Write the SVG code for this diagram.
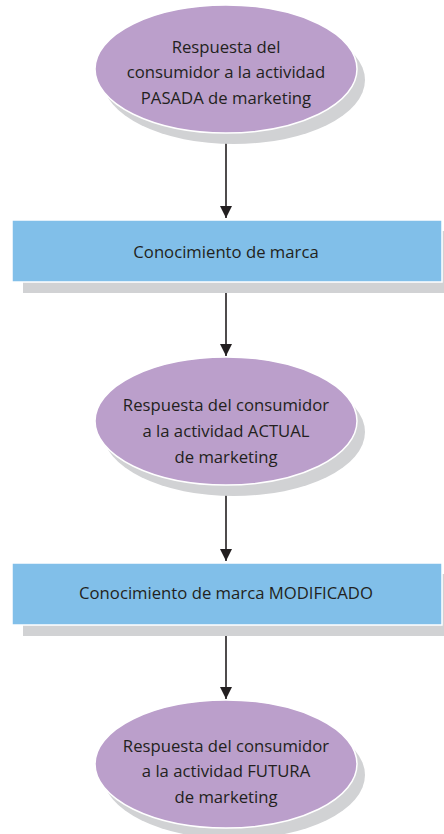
<svg xmlns="http://www.w3.org/2000/svg" width="444" height="834" viewBox="0 0 444 834">
  <defs>
    <style>
      .shadow { fill: #d1d2d4; }
      .ell { fill: #bb9fcb; stroke: #ffffff; stroke-width: 1.5; }
      .box { fill: #81bfe9; stroke: #ffffff; stroke-width: 1.5; }
      .lbl { font-family: "Open Sans", "Liberation Sans", sans-serif; font-size: 16.7px; fill: #231f20; text-anchor: middle; }
      .conn { stroke: #231f20; stroke-width: 1.6; fill: none; marker-end: url(#arrow); }
    </style>
    <marker id="arrow" viewBox="0 0 12 12" refX="12" refY="6" markerWidth="12" markerHeight="12" markerUnits="userSpaceOnUse" orient="auto">
      <path d="M0,0 L12,6 L0,12 Z" fill="#231f20"/>
    </marker>
  </defs>
  <rect width="444" height="834" fill="#ffffff"/>
  <g id="connectors">
    <line class="conn" x1="226" y1="134" x2="226" y2="218"/>
    <line class="conn" x1="226" y1="282" x2="226" y2="356"/>
    <line class="conn" x1="226" y1="486" x2="226" y2="561"/>
    <line class="conn" x1="226" y1="625" x2="226" y2="699"/>
  </g>
  <g id="node1">
    <ellipse class="shadow" cx="234" cy="80" rx="131" ry="64"/>
    <ellipse class="ell" cx="226" cy="69" rx="131" ry="64"/>
    <text class="lbl" x="226" y="53">Respuesta del</text>
    <text class="lbl" x="226" y="78">consumidor a la actividad</text>
    <text class="lbl" x="226" y="104">PASADA de marketing</text>
  </g>
  <g id="node2">
    <rect class="shadow" x="23" y="231" width="430" height="62"/>
    <rect class="box" x="12" y="220" width="430" height="62"/>
    <text class="lbl" x="226" y="258">Conocimiento de marca</text>
  </g>
  <g id="node3">
    <ellipse class="shadow" cx="234" cy="432" rx="131" ry="64"/>
    <ellipse class="ell" cx="226" cy="421" rx="131" ry="64"/>
    <text class="lbl" x="226" y="411">Respuesta del consumidor</text>
    <text class="lbl" x="226" y="437">a la actividad ACTUAL</text>
    <text class="lbl" x="226" y="463">de marketing</text>
  </g>
  <g id="node4">
    <rect class="shadow" x="23" y="574" width="430" height="62"/>
    <rect class="box" x="12" y="563" width="430" height="62"/>
    <text class="lbl" x="226" y="599">Conocimiento de marca MODIFICADO</text>
  </g>
  <g id="node5">
    <ellipse class="shadow" cx="234" cy="775" rx="131" ry="64"/>
    <ellipse class="ell" cx="226" cy="764" rx="131" ry="64"/>
    <text class="lbl" x="226" y="752">Respuesta del consumidor</text>
    <text class="lbl" x="226" y="777">a la actividad FUTURA</text>
    <text class="lbl" x="226" y="803">de marketing</text>
  </g>
</svg>
